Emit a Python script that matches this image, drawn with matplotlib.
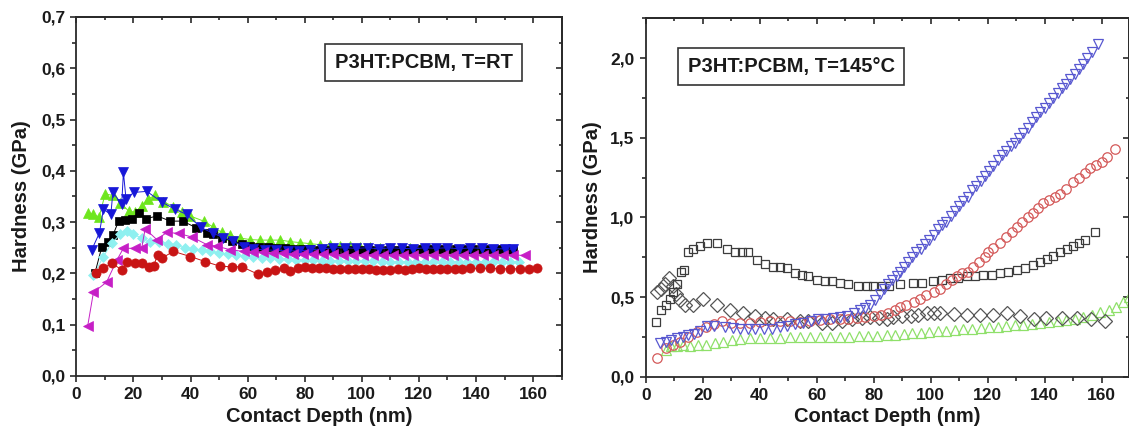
import matplotlib
matplotlib.use("Agg")
import matplotlib.pyplot as plt
from matplotlib.ticker import MultipleLocator, FuncFormatter

plt.rcParams['font.family'] = ['Liberation Sans', 'DejaVu Sans']
plt.rcParams['font.weight'] = 'bold'

# ---------------- Left panel data (T = RT) ----------------
rt_black_x = [6.5, 8.9, 11, 12.8, 14.8, 17.1, 19.4, 21.8, 24.5, 28.4, 32.9, 37.3, 42, 45.8, 48, 51, 54.5, 58, 61, 64, 67,
              70, 73, 76, 79, 82, 85, 88, 91, 94, 97, 100, 103, 106, 109, 112, 115, 118, 121, 124, 127, 130, 133, 136,
              139, 142, 145, 148, 151, 153]
rt_black_y = [0.20, 0.251, 0.262, 0.274, 0.302, 0.305, 0.307, 0.318, 0.307, 0.312, 0.302, 0.302, 0.289, 0.279, 0.276,
              0.269, 0.264, 0.258, 0.254, 0.252, 0.251, 0.25, 0.249, 0.248, 0.247, 0.247, 0.246, 0.246, 0.246, 0.246,
              0.245, 0.246, 0.246, 0.245, 0.246, 0.246, 0.245, 0.246, 0.247, 0.248, 0.248, 0.247, 0.247, 0.248, 0.248,
              0.248, 0.247, 0.247, 0.247, 0.246]

rt_green_x = [4, 6, 8, 10.1, 12.9, 15.3, 18.3, 20.6, 22.9, 25, 27.6, 30.5, 34, 37, 39.9, 44.6, 48, 51, 54, 57.4, 60.9,
              64.5, 68, 71.5, 75, 78.5, 82, 85.5, 89, 92.5, 96, 99.5, 103, 106.5, 110, 113.5, 117, 120.5, 124, 127.5,
              131, 134.5, 138, 141.5, 145, 148.5, 152]
rt_green_y = [0.318, 0.315, 0.31, 0.355, 0.352, 0.338, 0.322, 0.319, 0.332, 0.345, 0.352, 0.34, 0.33, 0.32, 0.312,
              0.302, 0.29, 0.28, 0.274, 0.269, 0.266, 0.265, 0.265, 0.265, 0.262, 0.26, 0.258, 0.256, 0.255, 0.254,
              0.253, 0.252, 0.251, 0.25, 0.25, 0.25, 0.249, 0.248, 0.248, 0.248, 0.247, 0.247, 0.247, 0.246, 0.246,
              0.246, 0.245]

rt_blue_x = [5.4, 8.1, 9.5, 12.1, 12.8, 15.9, 16.5, 17.4, 20.2, 24.7, 30, 34.6, 38.7, 43.5, 48, 51.5, 55, 58.6, 62, 66,
             70, 74, 78, 82, 86, 90, 94, 98, 102, 106, 110, 114, 118, 122, 126, 130, 134, 138, 142, 146, 150, 153]
rt_blue_y = [0.246, 0.279, 0.325, 0.315, 0.358, 0.335, 0.397, 0.346, 0.358, 0.36, 0.339, 0.325, 0.315, 0.29, 0.278,
             0.27, 0.263, 0.251, 0.248, 0.246, 0.245, 0.244, 0.244, 0.246, 0.248, 0.25, 0.25, 0.249, 0.25, 0.248, 0.25,
             0.249, 0.248, 0.25, 0.249, 0.25, 0.248, 0.25, 0.249, 0.248, 0.248, 0.247]

rt_cyan_x = [6, 9.5, 12.4, 15.3, 17.7, 20, 22.9, 25.9, 29, 32, 35, 38, 41, 44, 47, 50, 53, 56, 59, 62, 65, 68, 71, 74,
             77, 80, 83, 86, 89, 92, 95, 98, 101, 104, 107, 110, 113, 116, 119, 122, 125, 128, 131, 134, 137, 140, 143,
             146, 149, 152, 155]
rt_cyan_y = [0.196, 0.233, 0.259, 0.276, 0.282, 0.276, 0.269, 0.262, 0.262, 0.258, 0.255, 0.25, 0.248, 0.245, 0.243,
             0.24, 0.238, 0.236, 0.234, 0.232, 0.231, 0.23, 0.229, 0.228, 0.227, 0.226, 0.226, 0.225, 0.225, 0.225,
             0.224, 0.224, 0.224, 0.224, 0.223, 0.223, 0.223, 0.223, 0.223, 0.223, 0.223, 0.223, 0.223, 0.223, 0.223,
             0.223, 0.223, 0.223, 0.223, 0.223, 0.223]

rt_magenta_x = [4, 6, 10.6, 14.2, 16.5, 20.6, 22.9, 24.1, 28.2, 31.7, 35.8, 40.5, 45.8, 49.3, 54, 58.6, 62, 65.5, 69,
                72.5, 76, 79.5, 83, 86.5, 90, 93.5, 97, 100.5, 104, 107.5, 111, 114.5, 118, 121.5, 125, 128.5, 132,
                135.5, 139, 142.5, 146, 149.5, 153, 157]
rt_magenta_y = [0.098, 0.163, 0.183, 0.226, 0.249, 0.249, 0.249, 0.287, 0.266, 0.28, 0.278, 0.271, 0.256, 0.253,
                0.246, 0.243, 0.242, 0.241, 0.240, 0.239, 0.238, 0.238, 0.237, 0.237, 0.237, 0.236, 0.236, 0.236,
                0.236, 0.236, 0.236, 0.236, 0.236, 0.236, 0.236, 0.236, 0.236, 0.236, 0.236, 0.236, 0.236, 0.236,
                0.236, 0.235]

rt_red_x = [7, 9.5, 12.4, 15.9, 17.9, 20.6, 22.9, 25.4, 27.1, 28.5, 30, 34, 39.9, 45.2, 50.4, 54.5, 58, 63.8, 66.8,
            69.7, 72.6, 75, 77.5, 80, 82.5, 85, 87.5, 90, 92.5, 95, 97.5, 100, 102.5, 105, 107.5, 110, 112.5, 115,
            117.5, 120, 122.5, 125, 127.5, 130, 132.5, 135, 138, 141.5, 145, 148.5, 152, 155.5, 158.5, 161.5]
rt_red_y = [0.20, 0.21, 0.22, 0.207, 0.223, 0.22, 0.22, 0.213, 0.215, 0.236, 0.23, 0.243, 0.233, 0.223, 0.214, 0.213,
            0.213, 0.198, 0.203, 0.206, 0.21, 0.205, 0.21, 0.212, 0.21, 0.21, 0.21, 0.209, 0.209, 0.208, 0.209, 0.209,
            0.208, 0.207, 0.207, 0.207, 0.208, 0.207, 0.208, 0.21, 0.208, 0.208, 0.208, 0.208, 0.208, 0.209, 0.21,
            0.21, 0.21, 0.209, 0.209, 0.209, 0.209, 0.21]

# ---------------- Right panel data (T = 145 C) ----------------
ht_sq_x = [3.5, 5.3, 7, 8.5, 9.7, 11, 12.3, 13.3, 14.7, 16.7, 19, 21.4, 24.9, 28.4, 31.3, 33.7, 36, 38.9, 41.8, 44.8,
           47.1, 49.5, 52.4, 54.7, 57, 60, 62.9, 65.3, 68.2, 71.1, 74.6, 77.5, 79.9, 82.8, 85.5, 89.2, 93.9, 97, 100.9,
           103.8, 106.8, 109.7, 112.6, 115.5, 118.5, 121.4, 124.3, 127.2, 130.2, 133, 136, 138.5, 140.7, 143, 145.4,
           147.7, 150, 152.1, 154.2, 157.7]
ht_sq_y = [0.345, 0.42, 0.45, 0.49, 0.53, 0.58, 0.66, 0.67, 0.78, 0.80, 0.82, 0.84, 0.84, 0.80, 0.78, 0.78, 0.78, 0.73,
           0.71, 0.69, 0.69, 0.68, 0.65, 0.64, 0.63, 0.61, 0.60, 0.60, 0.59, 0.58, 0.57, 0.57, 0.57, 0.57, 0.57, 0.58,
           0.59, 0.59, 0.60, 0.61, 0.62, 0.62, 0.63, 0.63, 0.64, 0.64, 0.65, 0.66, 0.67, 0.68, 0.70, 0.72, 0.74, 0.76,
           0.78, 0.80, 0.82, 0.84, 0.86, 0.91]

ht_dm_x = [3.9, 5.5, 6.8, 8.3, 9.7, 10.8, 12, 13.8, 16.7, 20.2, 24.9, 29.6, 34.3, 38.4, 41.9, 44.8, 49.5, 54.1, 57,
           61.8, 65.3, 68.8, 72.3, 76, 78.7, 82, 84.6, 86.9, 90, 93, 95.5, 98.6, 101, 103.3, 108, 112.6, 117.3, 122,
           126.8, 131.5, 136.2, 140.3, 146.1, 151.4, 156.1, 161.3]
ht_dm_y = [0.53, 0.55, 0.58, 0.62, 0.57, 0.52, 0.48, 0.45, 0.45, 0.49, 0.45, 0.42, 0.40, 0.38, 0.37, 0.36, 0.36,
           0.35, 0.35, 0.34, 0.34, 0.35, 0.36, 0.37, 0.377, 0.37, 0.36, 0.377, 0.38, 0.38, 0.39, 0.40, 0.40, 0.40,
           0.395, 0.39, 0.39, 0.39, 0.40, 0.38, 0.36, 0.37, 0.37, 0.37, 0.36, 0.35]

ht_red_x = [4.1, 7, 9.5, 12, 15, 18, 21, 24, 26.7, 30, 33, 36.5, 40, 43.5, 47, 50.5, 54, 57.5, 61, 64.5, 68, 71, 74,
            77, 80, 82.5, 85, 87.5, 89.2, 91.5, 94, 96.3, 98.5, 101, 103.3, 105.5, 107.5, 109.1, 111, 113, 115, 117,
            119, 120, 122, 124.3, 126.5, 128.5, 130.2, 132, 134, 136, 137.8, 139.5, 141.5, 143.5, 145.5, 147.5, 150,
            152, 154, 156, 158, 160, 162, 164.7]
ht_red_y = [0.115, 0.18, 0.20, 0.22, 0.25, 0.28, 0.31, 0.33, 0.35, 0.34, 0.34, 0.34, 0.345, 0.35, 0.35, 0.35, 0.345,
            0.35, 0.355, 0.36, 0.36, 0.365, 0.37, 0.375, 0.38, 0.39, 0.40, 0.42, 0.44, 0.45, 0.47, 0.49, 0.51, 0.53,
            0.55, 0.58, 0.61, 0.63, 0.65, 0.66, 0.69, 0.72, 0.75, 0.78, 0.81, 0.84, 0.88, 0.91, 0.94, 0.97, 1.0, 1.03,
            1.06, 1.09, 1.11, 1.13, 1.15, 1.18, 1.225, 1.25, 1.28, 1.31, 1.33, 1.35, 1.38, 1.43]

ht_blue_x = [5, 7, 9, 11, 13, 15, 17, 19, 21.4, 24, 27.8, 30.5, 33.1, 36, 38.4, 41.5, 44.2, 47, 49.5, 52.5, 55.3, 58,
             60.6, 63, 65.8, 68, 70.5, 73, 75.2, 77, 78.7, 80.5, 82.2, 83.7, 85.1, 86.5, 88, 89.2, 90.5, 92, 93.5, 95,
             96.5, 98, 99.5, 101, 102.5, 104, 105.5, 107, 108.5, 110, 111.5, 113, 114.5, 116, 117.5, 119, 120.5, 122,
             123.5, 125, 126.5, 128, 129.5, 131, 132.5, 134, 135.5, 137, 138.5, 140, 141.5, 143, 144.5, 146, 147.5,
             149, 150.5, 152, 153.5, 155, 156.5, 158.8]
ht_blue_y = [0.21, 0.22, 0.23, 0.24, 0.25, 0.26, 0.27, 0.29, 0.32, 0.32, 0.31, 0.305, 0.30, 0.30, 0.30, 0.30, 0.30,
             0.31, 0.32, 0.33, 0.34, 0.35, 0.36, 0.365, 0.37, 0.375, 0.38, 0.40, 0.42, 0.43, 0.45, 0.48, 0.52, 0.55,
             0.58, 0.61, 0.63, 0.66, 0.69, 0.72, 0.75, 0.78, 0.80, 0.83, 0.86, 0.89, 0.93, 0.95, 0.97, 1.01, 1.04,
             1.07, 1.10, 1.13, 1.17, 1.20, 1.23, 1.26, 1.29, 1.32, 1.36, 1.39, 1.42, 1.45, 1.47, 1.50, 1.53, 1.56,
             1.60, 1.63, 1.66, 1.69, 1.72, 1.75, 1.78, 1.81, 1.84, 1.87, 1.90, 1.93, 1.96, 2.00, 2.04, 2.09]

ht_green_x = [7, 9, 11, 13, 15.5, 18.5, 21, 24.3, 27, 30.2, 33, 36.6, 40, 43.5, 47, 50.6, 54, 57.5, 61, 64.5, 68.2,
              71.5, 75, 78, 81, 84.6, 87.5, 90.5, 93.5, 96.5, 99.5, 102.5, 105.5, 108.5, 111.5, 114.5, 117.5, 120.5,
              123.5, 126.5, 129.5, 132.5, 135.5, 138.5, 141.5, 144.5, 147.5, 150.5, 153.5, 156.5, 159.5, 162.5, 165,
              167.5, 169.5]
ht_green_y = [0.17, 0.19, 0.19, 0.20, 0.19, 0.20, 0.20, 0.21, 0.22, 0.23, 0.235, 0.24, 0.24, 0.245, 0.245, 0.247,
              0.248, 0.25, 0.25, 0.25, 0.25, 0.252, 0.253, 0.255, 0.257, 0.26, 0.263, 0.267, 0.272, 0.276, 0.282,
              0.287, 0.29, 0.294, 0.298, 0.302, 0.306, 0.31, 0.314, 0.318, 0.322, 0.327, 0.332, 0.337, 0.342, 0.348,
              0.355, 0.365, 0.375, 0.39, 0.405, 0.42, 0.44, 0.47, 0.50]

left_label = "P3HT:PCBM, T=RT"
right_label = "P3HT:PCBM, T=145°C"
xlabel = "Contact Depth (nm)"
ylabel = "Hardness (GPa)"

W, H = 1129, 430
fig = plt.figure(figsize=(W / 100, H / 100), dpi=100)

ax1 = fig.add_axes([76.3 / W, 1 - 376 / H, (561.7 - 76.3) / W, (376 - 17) / H])
ax2 = fig.add_axes([645.7 / W, 1 - 376.7 / H, (1128.5 - 645.7) / W, (376.7 - 18.3) / H])

SP = '#2a2a2a'
comma = FuncFormatter(lambda v, p: ("%.1f" % v).replace('.', ','))
intfmt = FuncFormatter(lambda v, p: "%d" % round(v))


def style(ax, xmax, ymax, ymaj, ymin):
    ax.set_xlim(0, xmax)
    ax.set_ylim(0, ymax)
    ax.xaxis.set_major_locator(MultipleLocator(20))
    ax.xaxis.set_minor_locator(MultipleLocator(10))
    ax.yaxis.set_major_locator(MultipleLocator(ymaj))
    ax.yaxis.set_minor_locator(MultipleLocator(ymin))
    ax.xaxis.set_major_formatter(intfmt)
    ax.yaxis.set_major_formatter(comma)
    for s in ax.spines.values():
        s.set_color(SP)
        s.set_linewidth(1.3)
    ax.tick_params(which='both', direction='out', colors=SP, width=1.2,
                   labelsize=12.5, labelcolor='#1a1a1a', top=False, right=False)
    ax.tick_params(which='major', length=4.5, pad=3.5)
    ax.tick_params(which='minor', length=2.8)
    for lab in ax.get_xticklabels() + ax.get_yticklabels():
        lab.set_fontweight('bold')
    sx = ax.secondary_xaxis('top')
    sx.xaxis.set_major_locator(MultipleLocator(20))
    sx.xaxis.set_minor_locator(MultipleLocator(10))
    sx.tick_params(which='both', direction='in', colors=SP, width=1.2, labeltop=False)
    sx.tick_params(which='major', length=4)
    sx.tick_params(which='minor', length=2.5)
    sx.spines['top'].set_linewidth(1.3)
    sx.spines['top'].set_color(SP)
    sy = ax.secondary_yaxis('right')
    sy.yaxis.set_major_locator(MultipleLocator(ymaj))
    sy.yaxis.set_minor_locator(MultipleLocator(ymin))
    sy.tick_params(which='both', direction='in', colors=SP, width=1.2, labelright=False)
    sy.tick_params(which='major', length=4)
    sy.tick_params(which='minor', length=2.5)
    sy.spines['right'].set_linewidth(1.3)
    sy.spines['right'].set_color(SP)
    ax.set_xlabel(xlabel, fontsize=14.5, fontweight='bold', color='#1a1a1a')
    ax.set_ylabel(ylabel, fontsize=14.5, fontweight='bold', color='#1a1a1a')


style(ax1, 170, 0.7, 0.1, 0.05)
style(ax2, 169.4, 2.25, 0.5, 0.25)
ax1.xaxis.set_label_coords(0.5, -0.085)
ax1.yaxis.set_label_coords(-0.093, 0.5)
ax2.xaxis.set_label_coords(0.5, -0.085)
ax2.yaxis.set_label_coords(-0.090, 0.5)

# Left: filled markers with thin connecting lines
left_series = [
    (rt_green_x, rt_green_y, '^', '#6ee61e', 7.0),
    (rt_black_x, rt_black_y, 's', '#000000', 5.8),
    (rt_blue_x, rt_blue_y, 'v', '#1717d8', 7.0),
    (rt_cyan_x, rt_cyan_y, 'D', '#8ff0f0', 5.6),
    (rt_magenta_x, rt_magenta_y, '<', '#c61fc6', 7.0),
    (rt_red_x, rt_red_y, 'o', '#c81414', 6.6),
]
for xs, ys, m, c, ms in left_series:
    ax1.plot(xs, ys, '-', color=c, lw=0.7, marker=m, markersize=ms,
             markerfacecolor=c, markeredgecolor=c, markeredgewidth=0.5)

# Right: open markers
right_series = [
    (ht_green_x, ht_green_y, '^', '#8fe06a', 7.2),
    (ht_dm_x, ht_dm_y, 'D', '#555555', 6.8),
    (ht_sq_x, ht_sq_y, 's', '#3c3c3c', 6.2),
    (ht_red_x, ht_red_y, 'o', '#d45a5a', 6.8),
    (ht_blue_x, ht_blue_y, 'v', '#5858d0', 7.2),
]
for xs, ys, m, c, ms in right_series:
    ax2.plot(xs, ys, linestyle='none', marker=m, markersize=ms,
             markerfacecolor='none', markeredgecolor=c, markeredgewidth=0.9)

box = dict(boxstyle='square,pad=0.45', facecolor='white', edgecolor='#333333', linewidth=1.2)
ax1.text(121.6, 0.612, left_label, ha='center', va='center', fontsize=14.5, fontweight='bold',
         color='#1a1a1a', bbox=box, zorder=5)
ax2.text(51.0, 1.945, right_label, ha='center', va='center', fontsize=14.5, fontweight='bold',
         color='#1a1a1a', bbox=box, zorder=5)

fig.savefig('out.png', dpi=100)
